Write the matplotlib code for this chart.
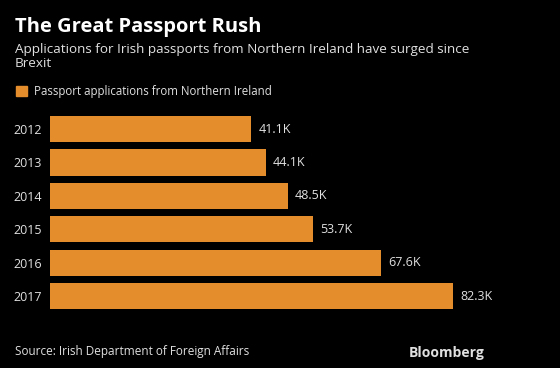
import matplotlib.pyplot as plt

# Datos
years = ['2012', '2013', '2014', '2015', '2016', '2017']
applications = [41.1, 44.1, 48.5, 53.7, 67.6, 82.3]  # miles
labels = ['41.1K', '44.1K', '48.5K', '53.7K', '67.6K', '82.3K']

bg = 'black'
bar_color = '#E38D2C'
text_color = '#E0E0E0'
plt.rcParams['font.family'] = ['Open Sans', 'DejaVu Sans']

fig = plt.figure(figsize=(5.6, 3.68), dpi=100, facecolor=bg)
ax = fig.add_axes([50 / 560, 0.150, 490 / 560, 0.5446], facecolor=bg)

pos = list(range(len(years)))
ax.barh(pos, applications, height=0.78, color=bar_color)
for p, v, lab in zip(pos, applications, labels):
    ax.text(v + 1.4, p, lab, va='center', ha='left', color=text_color, fontsize=9)

ax.set_xlim(0, 100)
ax.set_ylim(5.5, -0.5)
ax.set_yticks(pos)
ax.set_yticklabels(years, color=text_color, fontsize=9)
ax.tick_params(axis='y', length=0, pad=6)
ax.set_xticks([])
for s in ax.spines.values():
    s.set_visible(False)

# Títulos
fig.text(15 / 560, 1 - 27 / 368, 'The Great Passport Rush', color='white',
         fontsize=14.5, fontweight='bold', va='center', ha='left')
fig.text(15 / 560, 1 - 43 / 368,
         'Applications for Irish passports from Northern Ireland have surged since\nBrexit',
         color=text_color, fontsize=9.7, va='top', ha='left', linespacing=1.08)

# Leyenda
fig.patches.append(plt.Rectangle((16 / 560, 1 - 96 / 368), 11 / 560, 10 / 368,
                                 transform=fig.transFigure, color=bar_color))
fig.text(34 / 560, 1 - 91 / 368, 'Passport applications from Northern Ireland',
         color=text_color, fontsize=8.3, va='center', ha='left')

# Pie
fig.text(15 / 560, 1 - 351 / 368, 'Source: Irish Department of Foreign Affairs',
         color=text_color, fontsize=8.5, va='center', ha='left')
fig.text(485 / 560, 1 - 353 / 368, 'Bloomberg', color=text_color,
         fontsize=10, fontweight='bold', va='center', ha='right')

fig.savefig('out.png', dpi=100, facecolor=bg)
